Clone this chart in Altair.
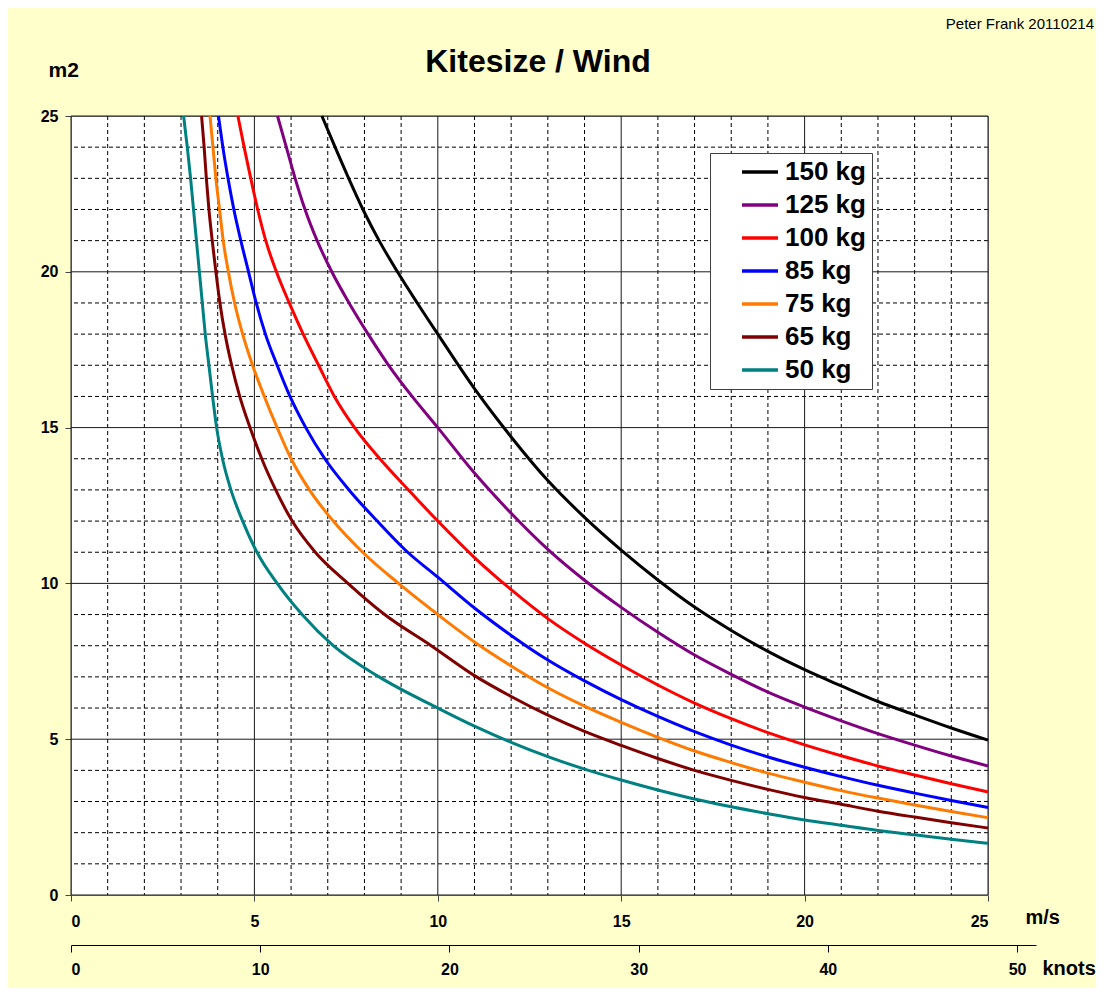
import altair as alt
import pandas as pd

FONT = "Liberation Sans"

# ---------------- data ----------------
series_labels = ["150 kg", "125 kg", "100 kg", "85 kg", "75 kg", "65 kg", "50 kg"]
series_colors = ["#000000", "#800080", "#FF0000", "#0000FF", "#FF7A00", "#800000", "#008080"]

wind_150 = [6.84, 7.2, 7.57, 7.96, 8.4, 8.9, 9.44, 10,
            11, 12, 13, 14, 15, 16, 17, 18, 19, 20, 21, 22, 23, 24, 25]
area_150 = [25, 24, 23, 22, 21, 20, 19, 18,
            16.25, 14.7, 13.3, 12.12, 11.07, 10.11, 9.24, 8.49, 7.82, 7.23, 6.71, 6.21, 5.78, 5.36, 4.97]

wind_125 = [5.63, 5.87, 6.11, 6.38, 6.71, 7.11, 7.58, 8.1, 8.66, 9.3, 10,
            11, 12, 13, 14, 15, 16, 17, 18, 19, 20, 21, 22, 23, 24, 25]
area_125 = [25, 24, 23, 22, 21, 20, 19, 18, 17, 16, 15,
            13.54, 12.25, 11.09, 10.1, 9.23, 8.43, 7.7, 7.08, 6.51, 6.03, 5.59, 5.18, 4.81, 4.46, 4.14]

wind_100 = [4.55, 4.72, 4.9, 5.09, 5.31, 5.6, 5.95, 6.33, 6.75, 7.18, 7.73, 8.42, 9.2, 10,
            11, 12, 13, 14, 15, 16, 17, 18, 19, 20, 21, 22, 23, 24, 25]
area_100 = [25, 24, 23, 22, 21, 20, 19, 18, 17, 16, 15, 14, 13, 12,
            10.83, 9.8, 8.87, 8.08, 7.38, 6.74, 6.16, 5.66, 5.21, 4.82, 4.47, 4.14, 3.85, 3.57, 3.31]

wind_85 = [4.02, 4.14, 4.28, 4.44, 4.63, 4.84, 5.05, 5.3, 5.62, 5.97, 6.4, 6.92, 7.58, 8.35, 9.18, 10,
           11, 12, 13, 14, 15, 16, 17, 18, 19, 20, 21, 22, 23, 24, 25]
area_85 = [25, 24, 23, 22, 21, 20, 19, 18, 17, 16, 15, 14, 13, 12, 11, 10.2,
           9.21, 8.33, 7.54, 6.87, 6.27, 5.73, 5.24, 4.81, 4.43, 4.1, 3.8, 3.52, 3.27, 3.03, 2.81]

wind_75 = [3.79, 3.87, 3.95, 4.05, 4.15, 4.29, 4.46, 4.68, 4.95, 5.27, 5.62, 6.0, 6.5, 7.15, 7.95, 8.93, 10,
           11, 12, 13, 14, 15, 16, 17, 18, 19, 20, 21, 22, 23, 24, 25]
area_75 = [25, 24, 23, 22, 21, 20, 19, 18, 17, 16, 15, 14, 13, 12, 11, 10, 9,
           8.12, 7.35, 6.65, 6.06, 5.54, 5.06, 4.62, 4.25, 3.91, 3.62, 3.35, 3.11, 2.89, 2.68, 2.48]

wind_65 = [3.56, 3.63, 3.69, 3.76, 3.85, 3.95, 4.06, 4.2, 4.38, 4.6, 4.88, 5.2, 5.58, 6.03, 6.66, 7.55, 8.55, 9.82,
           11, 12, 13, 14, 15, 16, 17, 18, 19, 20, 21, 22, 23, 24, 25]
area_65 = [25, 24, 23, 22, 21, 20, 19, 18, 17, 16, 15, 14, 13, 12, 11, 10, 9, 8,
           7.04, 6.37, 5.77, 5.25, 4.8, 4.38, 4.0, 3.68, 3.39, 3.13, 2.91, 2.69, 2.5, 2.32, 2.15]

wind_50 = [3.07, 3.17, 3.26, 3.34, 3.42, 3.5, 3.58, 3.66, 3.76, 3.86, 3.97, 4.13, 4.36, 4.68, 5.07, 5.62, 6.3,
           7.15, 8.4, 10, 11, 12, 13, 14, 15, 16, 17, 18, 19, 20, 21, 22, 23, 24, 25]
area_50 = [25, 24, 23, 22, 21, 20, 19, 18, 17, 16, 15, 14, 13, 12, 11, 10, 9,
           8, 7, 6, 5.42, 4.9, 4.44, 4.04, 3.69, 3.37, 3.08, 2.83, 2.61, 2.41, 2.24, 2.07, 1.93, 1.79, 1.66]

major_ticks = [0, 5, 10, 15, 20, 25]
minor_ticks = [v for v in range(1, 25) if v % 5 != 0]
knot_ticks = [0, 10, 20, 30, 40, 50]

title_text = "Kitesize / Wind"
credit_text = "Peter Frank 20110214"

# ---------------- build tables ----------------
winds = [wind_150, wind_125, wind_100, wind_85, wind_75, wind_65, wind_50]
areas = [area_150, area_125, area_100, area_85, area_75, area_65, area_50]
frames = [pd.DataFrame({"wind": w, "area": a, "series": lab})
          for lab, w, a in zip(series_labels, winds, areas)]
df = pd.concat(frames, ignore_index=True)

W, H = 917, 779
xs = alt.Scale(domain=[0, 25], nice=False)
ys = alt.Scale(domain=[0, 25], nice=False)

x_axis = alt.Axis(values=major_ticks, grid=False, title="m/s", tickSize=6, tickColor="#444",
                  domainColor="#808080", labelFont=FONT, labelFontSize=16, labelFontWeight="bold",
                  labelColor="black", labelPadding=12, titleFont=FONT, titleFontSize=20,
                  titleFontWeight="bold", titleColor="black", titleAngle=0, titleAlign="left",
                  titleBaseline="middle", titleX=954, titleY=22)
y_axis = alt.Axis(values=major_ticks, grid=False, title="m2", tickSize=6, tickColor="#444",
                  domainColor="#808080", labelFont=FONT, labelFontSize=16, labelFontWeight="bold",
                  labelColor="black", labelPadding=7, titleFont=FONT, titleFontSize=21,
                  titleFontWeight="bold", titleColor="black", titleAngle=0, titleAlign="left",
                  titleBaseline="middle", titleX=-23, titleY=-46)

minor_df = pd.DataFrame({"v": minor_ticks})
major_df = pd.DataFrame({"v": major_ticks})

vminor = alt.Chart(minor_df).mark_rule(color="black", strokeDash=[4, 3], strokeWidth=1).encode(
    x=alt.X("v:Q", scale=xs, axis=x_axis))
hminor = alt.Chart(minor_df).mark_rule(color="black", strokeDash=[4, 3], strokeWidth=1).encode(
    y=alt.Y("v:Q", scale=ys, axis=y_axis))
vmajor = alt.Chart(major_df).mark_rule(color="#1a1a1a", strokeWidth=1).encode(
    x=alt.X("v:Q", scale=xs, axis=x_axis))
hmajor = alt.Chart(major_df).mark_rule(color="#1a1a1a", strokeWidth=1).encode(
    y=alt.Y("v:Q", scale=ys, axis=y_axis))

lines = alt.Chart(df).mark_line(strokeWidth=3, interpolate="monotone").encode(
    x=alt.X("wind:Q", scale=xs, axis=x_axis),
    y=alt.Y("area:Q", scale=ys, axis=y_axis),
    color=alt.Color("series:N", scale=alt.Scale(domain=series_labels, range=series_colors),
                    legend=alt.Legend(title=None, orient="none", legendX=639, legendY=37,
                                      fillColor="white", strokeColor="#404040", padding=6,
                                      symbolType="stroke", symbolSize=1296, symbolStrokeWidth=3.5,
                                      symbolOffset=24, clipHeight=26, rowPadding=7,
                                      labelFont=FONT, labelFontSize=26, labelFontWeight="bold",
                                      labelColor="black", labelOffset=5)),
)

inner = alt.layer(vminor, hminor, vmajor, hmajor, lines)

knots_layer = alt.Chart(pd.DataFrame({"k": knot_ticks})).mark_point(opacity=0).encode(
    x=alt.X("k:Q", scale=alt.Scale(domain=[0, 51], range=[0, 965], nice=False),
            axis=alt.Axis(values=knot_ticks, orient="bottom", offset=50, grid=False, title="knots",
                          tickSize=7, tickColor="black", domainColor="black",
                          labelFont=FONT, labelFontSize=16, labelFontWeight="bold", labelColor="black",
                          labelPadding=9, titleFont=FONT, titleFontSize=20, titleFontWeight="bold",
                          titleColor="black", titleAngle=0, titleAlign="left", titleBaseline="middle",
                          titleX=971, titleY=23)),
)

title_mark = alt.Chart(pd.DataFrame({"t": [title_text]})).mark_text(
    align="center", baseline="middle", font=FONT, fontSize=32, fontWeight="bold", color="black").encode(
    text="t:N", x=alt.value(467), y=alt.value(-54))

credit = alt.Chart(pd.DataFrame({"t": [credit_text]})).mark_text(
    align="right", baseline="middle", font=FONT, fontSize=15, color="black").encode(
    text="t:N", x=alt.value(1023), y=alt.value(-92))

chart = alt.layer(inner, knots_layer, title_mark, credit).resolve_scale(
    x="independent").resolve_axis(x="independent").properties(
    width=W, height=H,
    padding={"left": 63, "top": 108, "right": 108, "bottom": 93},
    autosize=alt.AutoSizeParams(type="none"),
    background="#FFFFCC",
).configure_view(stroke="#808080", fill="white")

chart.save("out.html", embed_options={"renderer": "svg", "actions": False})
